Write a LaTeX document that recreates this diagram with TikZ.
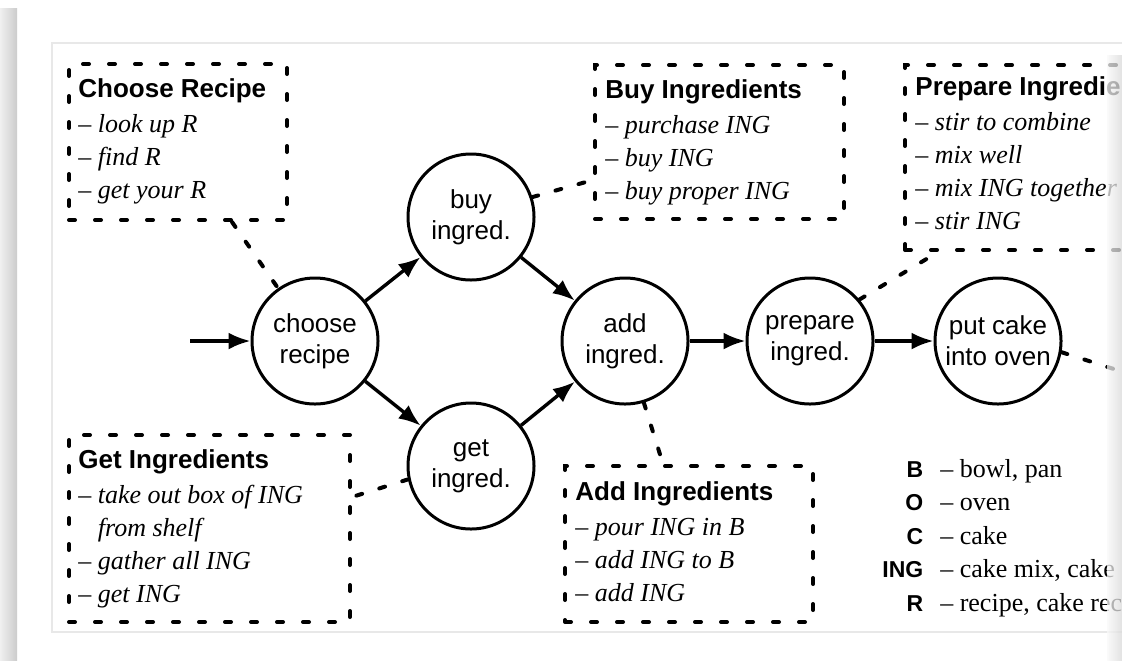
\documentclass[tikz,border=0pt]{standalone}
\usepackage{fontspec}
\setmainfont{Liberation Serif}
\setsansfont{Liberation Sans}
\usetikzlibrary{arrows.meta}

\begin{document}
\begin{tikzpicture}[x=0.5pt,y=-0.5pt,
  state/.style={circle,draw,line width=1.5pt,minimum size=63pt,inner sep=0pt,
    align=center,font=\sffamily\fontsize{13}{15.5}\selectfont},
  flow/.style={-{Latex[length=11pt,width=8.5pt]},line width=1.7pt},
  note/.style={draw,line width=2pt,dash pattern=on 3pt off 10pt,line cap=round,
    anchor=north west,inner sep=0pt},
  notetext/.style={anchor=north west,inner sep=0pt,align=left,
    font=\fontsize{13}{16.5}\selectfont\itshape},
  notetitle/.style={},
  link/.style={line width=2pt,dash pattern=on 3pt off 9pt,line cap=round}]

\useasboundingbox (0,0) rectangle (1122,660);
\clip (0,0) rectangle (1122,660);

% Page
\fill[white] (0,0) rectangle (1122,660);
\draw[gray!18,line width=0.6pt] (1122,43) -- (52,43) -- (52,632) -- (1122,632);

% States
\coordinate (entry) at (190,341);
\node[state] (choose) at (315,341) {choose\\recipe};
\node[state] (buy) at (471,217) {buy\\ingred.};
\node[state] (get) at (471,466) {get\\ingred.};
\node[state] (add) at (625,341) {add\\ingred.};
\node[state] (prepare) at (810,341) {prepare\\ingred.};
\node[state] (oven) at (998,341) {put cake\\into oven};
\coordinate (ovenend) at (1120,371);

% Transitions
\draw[flow] (entry) -- (choose);
\draw[flow] (choose) -- (buy);
\draw[flow] (choose) -- (get);
\draw[flow] (buy) -- (add);
\draw[flow] (get) -- (add);
\draw[flow] (add) -- (prepare);
\draw[flow] (prepare) -- (oven);

% Notes
\node[note,minimum width=109pt,minimum height=78pt] (recipebox) at (67,62) {};
\node[notetext] (recipetxt) at ([shift={(11,16)}]recipebox.north west)
  {{\normalfont\sffamily\bfseries Choose Recipe}\\[1pt]
   -- look up R\\ -- find R\\ -- get your R};

\node[note,minimum width=124.5pt,minimum height=77pt] (buybox) at (593,63) {};
\node[notetext] (buytxt) at ([shift={(12,16)}]buybox.north west)
  {{\normalfont\sffamily\bfseries Buy Ingredients}\\[1pt]
   -- purchase ING\\ -- buy ING\\ -- buy proper ING};

\node[note,minimum width=130pt,minimum height=92.5pt] (prepbox) at (903,63) {};
\node[notetext] (preptxt) at ([shift={(12,13)}]prepbox.north west)
  {{\normalfont\sffamily\bfseries Prepare Ingredie}\\[1pt]
   -- stir to combine\\ -- mix well\\ -- mix ING together\\ -- stir ING};

\node[note,minimum width=140.5pt,minimum height=93.5pt] (getbox) at (67,433) {};
\node[notetext] (gettxt) at ([shift={(11,16)}]getbox.north west)
  {{\normalfont\sffamily\bfseries Get Ingredients}\\[1pt]
   -- take out box of ING\\ \hphantom{--~}from shelf\\ -- gather all ING\\ -- get ING};

\node[note,minimum width=124pt,minimum height=78pt] (addbox) at (563,464) {};
\node[notetext] (addtxt) at ([shift={(12,17)}]addbox.north west)
  {{\normalfont\sffamily\bfseries Add Ingredients}\\[1pt]
   -- pour ING in B\\ -- add ING to B\\ -- add ING};

% Note links
\draw[link] ([shift={(165,0)}]recipebox.south west) -- (choose.125);
\draw[link] (buy.18) -- ([shift={(0,117)}]buybox.north west);
\draw[link] (get.192) -- ([shift={(0,64)}]getbox.north east);
\draw[link] (add.-73) -- ([shift={(100,0)}]addbox.north west);
\draw[link] (prepare.40) -- ([shift={(35,0)}]prepbox.south west);
\draw[link] (oven.-10) -- (ovenend);

% Legend
\node[anchor=north west,inner sep=0pt] (legend) at (882,453.5)
  {\fontsize{13}{16.75}\selectfont
   \begin{tabular}{@{}r@{\hspace{8.5pt}}l@{}}
   {\sffamily\bfseries\fontsize{11.5}{16.75}\selectfont B} & -- bowl, pan\\
   {\sffamily\bfseries\fontsize{11.5}{16.75}\selectfont O} & -- oven\\
   {\sffamily\bfseries\fontsize{11.5}{16.75}\selectfont C} & -- cake\\
   {\sffamily\bfseries\fontsize{11.5}{16.75}\selectfont ING} & -- cake mix, cake\\
   {\sffamily\bfseries\fontsize{11.5}{16.75}\selectfont R} & -- recipe, cake rec
   \end{tabular}};

% Shadows
\shade[left color=gray!12,right color=gray!40] (0,8) rectangle (17,660);
\shade[left color=gray!5,right color=gray!30,opacity=0.75] (1107,55) rectangle (1122,660);

\end{tikzpicture}
\end{document}
